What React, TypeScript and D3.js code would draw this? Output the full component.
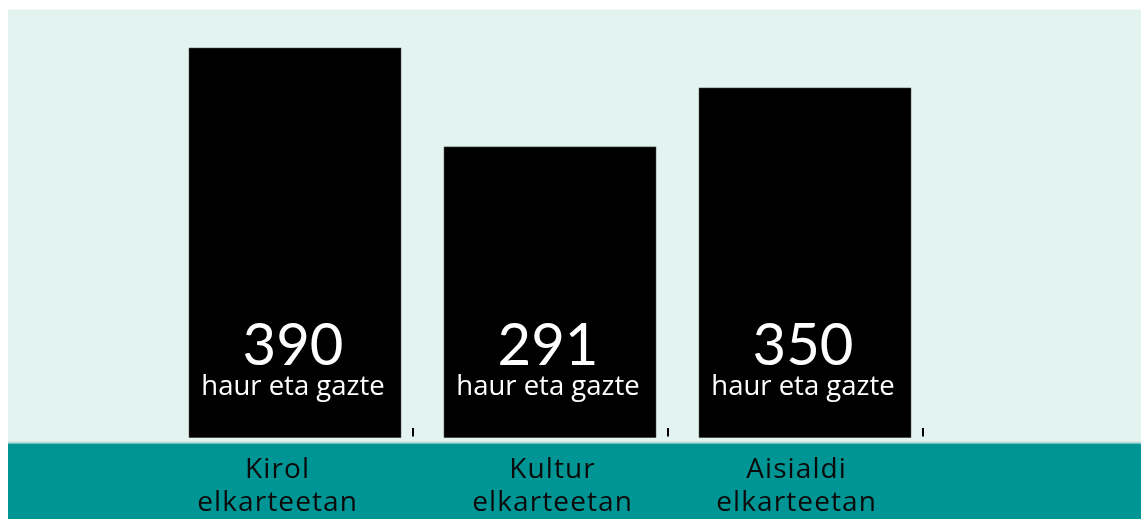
import React from "react";
import * as d3 from "d3";

const categories = ["Kirol elkarteetan", "Kultur elkarteetan", "Aisialdi elkarteetan"];
const categoryLines = [
  ["Kirol", "elkarteetan"],
  ["Kultur", "elkarteetan"],
  ["Aisialdi", "elkarteetan"],
];
const values = [390, 291, 350];
const unitLabel = "haur eta gazte";
const labelShift = [-18, 2, -9];

const W = 1133;
const H = 511;
const FONT_NUM = "Lato, 'Open Sans', sans-serif";
const FONT = "'Open Sans', Lato, sans-serif";

export default function App() {
  const x = d3
    .scaleBand<string>()
    .domain(categories)
    .range([181, 903])
    .paddingInner(43 / 255)
    .paddingOuter(0);
  const y = d3.scaleLinear().domain([0, 390]).range([429.7, 40]);
  const bw = x.bandwidth();

  return (
    <svg
      width={W}
      height={H}
      style={{ display: "block", position: "fixed", left: 8, top: 8 }}
    >
      <rect x={0} y={1.5} width={W} height={432} fill="#e3f3f0" />
      <rect x={0} y={433.5} width={W} height={2} fill="#b3dcd8" />
      <rect x={0} y={435.5} width={W} height={H - 435.5} fill="#009595" />
      {categories.map((c, i) => {
        const x0 = x(c)!;
        const cx = x0 + bw / 2;
        return (
          <g key={c}>
            <rect
              x={x0}
              y={y(values[i])}
              width={bw}
              height={y(0) - y(values[i])}
              fill="#000"
              stroke="#555"
              strokeWidth={0.5}
            />
            <rect x={x0 + bw + 11} y={420} width={2} height={8.5} fill="#000" />
            <text
              x={cx - 2}
              y={357}
              textAnchor="middle"
              fontFamily={FONT_NUM}
              fontSize={58}
              fill="#fff"
            >
              {values[i]}
            </text>
            <text
              x={cx - 2}
              y={386.5}
              textAnchor="middle"
              fontFamily={FONT}
              fontSize={27.5}
              fill="#fff"
            >
              {unitLabel}
            </text>
            {categoryLines[i].map((ln, j) => (
              <text
                key={j}
                x={cx + labelShift[i] + 0.6}
                y={469.5 + j * 33.5}
                textAnchor="middle"
                fontFamily={FONT}
                fontSize={28}
                letterSpacing={1.1}
                fill="#0a0a0a"
              >
                {ln}
              </text>
            ))}
          </g>
        );
      })}
    </svg>
  );
}
